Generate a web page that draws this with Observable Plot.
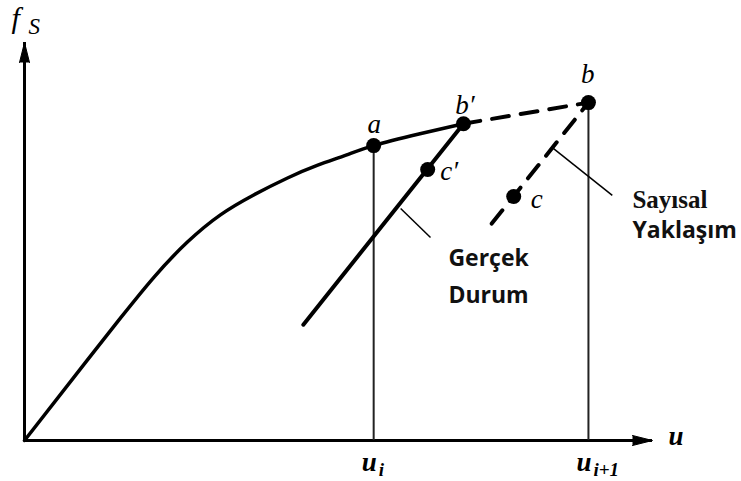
<!DOCTYPE html>
<html>
<head>
<meta charset="utf-8">
<script src="https://cdn.jsdelivr.net/npm/d3@7"></script>
<script src="https://cdn.jsdelivr.net/npm/@observablehq/plot@0.6"></script>
<style>
  html, body { margin: 0; padding: 0; background: #fff; }
  #chart svg { display: block; }
</style>
</head>
<body>
<div id="chart"></div>
<script>
// Axis extents (displacement u, resisting force f_S)
const uMax = 10;
const fMax = 10;

// Nonlinear resisting-force curve f_S(u), from the origin up to b′
const curveU = [0, 1.00, 1.53, 2.06, 2.59, 3.12, 3.65, 4.18, 4.66, 5.12, 5.56, 6.28, 6.99];
const curveF = [0, 2.02, 3.08, 4.10, 4.98, 5.67, 6.17, 6.59, 6.91, 7.17, 7.41, 7.70, 7.96];

// State points
const pointNames = ["a", "b′", "c′", "b", "c"];
const pointU = [5.56, 6.99, 6.42, 8.98, 7.79];
const pointF = [7.41, 7.96, 6.81, 8.49, 6.13];
// Where each point's name sits (left edge of the letter, mid-height)
const nameU = [5.46, 6.86, 6.62, 8.86, 8.06];
const nameF = [7.95, 8.43, 6.75, 9.21, 6.07];

// Step displacements u_i and u_{i+1} with the force reached at each
const stepU = [5.56, 8.98];
const stepF = [7.41, 8.49];
const stepSub = ["i", "i+1"];

// Unloading branch of the real response (ends at b′)
const realU = [4.44, 6.99];
const realF = [2.91, 7.96];
// Unloading branch of the numerical approximation (ends at b)
const numU = [7.44, 8.98];
const numF = [5.45, 8.49];
// Predictor step b′ → b
const predU = [6.99, 8.98];
const predF = [7.96, 8.49];

// Callout leaders: [u1, f1, u2, f2]
const leaderReal = [5.99, 5.83, 6.465, 5.10];
const leaderNum = [8.42, 7.34, 9.36, 6.16];

// Callout texts and their positions
const calloutText = ["Gerçek", "Durum", "Sayısal", "Yaklaşım"];
const calloutU = [6.75, 6.75, 9.68, 9.68];
const calloutF = [4.56, 3.63, 6.05, 5.27];

const toRows = (us, fs) => us.map((u, i) => ({u, f: fs[i]}));
const curve = toRows(curveU, curveF);
const points = pointNames.map((name, i) => ({name, u: pointU[i], f: pointF[i], nu: nameU[i], nf: nameF[i]}));
const steps = stepU.map((u, i) => ({u, f: stepF[i], sub: stepSub[i]}));
const leaders = [leaderReal, leaderNum].map(([u1, f1, u2, f2]) => ({u1, f1, u2, f2}));
const callouts = calloutText.map((text, i) => ({text, u: calloutU[i], f: calloutF[i]}));

const serif = "Liberation Serif, Times New Roman, serif";
const sans = "Open Sans, DejaVu Sans, sans-serif";
const letterSize = 27;

const chart = Plot.plot({
  width: 741,
  height: 481,
  marginLeft: 24,
  marginRight: 89,
  marginTop: 42,
  marginBottom: 41,
  x: {domain: [0, uMax], axis: null},
  y: {domain: [0, fMax], axis: null},
  style: {background: "#fff", overflow: "visible"},
  marks: [
    // axes
    Plot.ruleY([0], {x1: 0, x2: uMax, stroke: "#000", strokeWidth: 3}),
    Plot.ruleX([0], {y1: 0, y2: fMax, stroke: "#000", strokeWidth: 3}),
    Plot.vector([0], {x: uMax, y: 0, rotate: 90, length: 20, r: 5, shape: "spike", anchor: "end",
      fill: "#000", fillOpacity: 1, stroke: "#000", strokeWidth: 1}),
    Plot.vector([0], {x: 0, y: fMax, rotate: 0, length: 20, r: 5, shape: "spike", anchor: "end",
      fill: "#000", fillOpacity: 1, stroke: "#000", strokeWidth: 1}),

    // step guides
    Plot.ruleX(steps, {x: "u", y1: 0, y2: "f", stroke: "#222", strokeWidth: 2}),

    // resisting-force curve
    Plot.line(curve, {x: "u", y: "f", curve: "natural", stroke: "#000", strokeWidth: 3.5}),

    // predictor step and unloading branches
    Plot.line(toRows(predU, predF), {x: "u", y: "f", stroke: "#000", strokeWidth: 4, strokeDasharray: "17,12"}),
    Plot.line(toRows(realU, realF), {x: "u", y: "f", stroke: "#000", strokeWidth: 4}),
    Plot.line(toRows(numU, numF), {x: "u", y: "f", stroke: "#000", strokeWidth: 4, strokeDasharray: "17,12"}),

    // callout leaders
    Plot.link(leaders, {x1: "u1", y1: "f1", x2: "u2", y2: "f2", stroke: "#000", strokeWidth: 1.5}),

    // state points
    Plot.dot(points, {x: "u", y: "f", r: 7.5, fill: "#000"}),

    // point names
    Plot.text(points, {x: "nu", y: "nf", text: "name", fontFamily: serif, fontStyle: "italic",
      fontSize: letterSize, textAnchor: "start", fill: "#000"}),

    // axis titles
    Plot.text(["f"], {x: 0, y: fMax, text: (d) => d, dx: -13, dy: -24, fontFamily: serif, fontStyle: "italic",
      fontSize: 30, textAnchor: "start", fill: "#000"}),
    Plot.text(["S"], {x: 0, y: fMax, text: (d) => d, dx: 4, dy: -16, fontFamily: serif, fontStyle: "italic",
      fontSize: 23, textAnchor: "start", fill: "#000"}),
    Plot.text(["u"], {x: uMax, y: 0, text: (d) => d, dx: 16, dy: -4, fontFamily: serif, fontStyle: "italic",
      fontWeight: "bold", fontSize: letterSize, textAnchor: "start", fill: "#000"}),

    // step labels u_i, u_{i+1}
    Plot.text(steps, {x: "u", y: 0, text: () => "u", dx: -12, dy: 22, fontFamily: serif, fontStyle: "italic",
      fontWeight: "bold", fontSize: letterSize, textAnchor: "start", fill: "#000"}),
    Plot.text(steps, {x: "u", y: 0, text: "sub", dx: 5, dy: 29, fontFamily: serif,
      fontStyle: "italic", fontWeight: "bold", fontSize: 19, textAnchor: "start", fill: "#000"}),

    // callout texts
    Plot.text(callouts.filter((d) => d.text !== "Sayısal"), {x: "u", y: "f", text: "text",
      fontFamily: sans, fontWeight: "bold", fontSize: 23, textAnchor: "start", fill: "#111"}),
    Plot.text(callouts.filter((d) => d.text === "Sayısal"), {x: "u", y: "f", text: "text",
      fontFamily: serif, fontWeight: "bold", fontSize: 25, textAnchor: "start", fill: "#111"})
  ]
});

document.getElementById("chart").appendChild(chart);
</script>
</body>
</html>
